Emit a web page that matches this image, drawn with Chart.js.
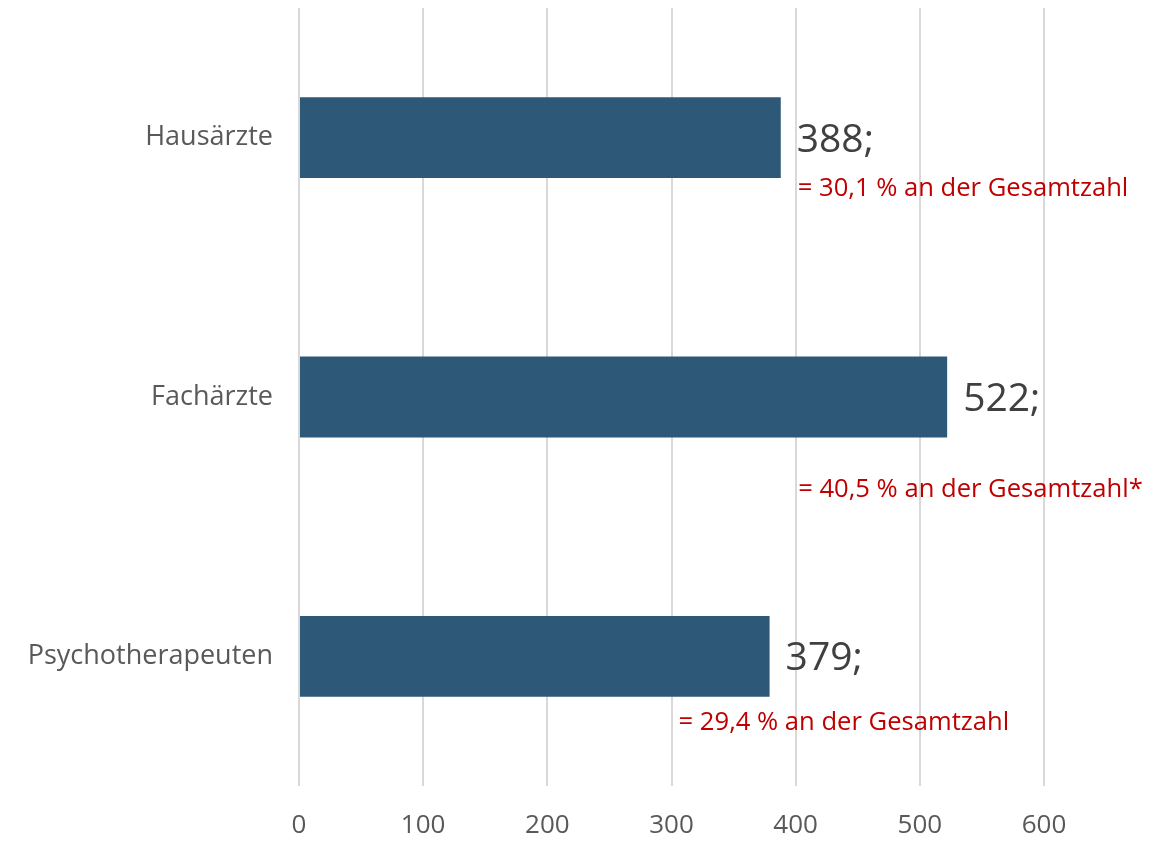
<!DOCTYPE html>
<html>
<head>
<meta charset="utf-8">
<script src="https://cdn.jsdelivr.net/npm/chart.js@4"></script>
<style>
  html, body { margin: 0; padding: 0; background: #fff; }
  #wrap { width: 1170px; height: 841px; }
</style>
</head>
<body>
<div id="wrap"><canvas id="chart" width="1170" height="841"></canvas></div>
<script>
const categories = ['Hausärzte', 'Fachärzte', 'Psychotherapeuten'];
const counts = [388, 522, 379];
const shareLabels = ['= 30,1 % an der Gesamtzahl', '= 40,5 % an der Gesamtzahl*', '= 29,4 % an der Gesamtzahl'];
const xTicks = [0, 100, 200, 300, 400, 500, 600];

// where each annotation sits relative to its bar end (pixels)
const valueOffsets = [[16, 3], [16, 3], [16, 3]];
const shareOffsets = [[17, 51], [-149, 93], [-91, 66]];

const annotations = {
    id: 'annotations',
    afterDatasetsDraw(chart) {
        const ctx = chart.ctx;
        const meta = chart.getDatasetMeta(0);
        ctx.save();
        ctx.textBaseline = 'middle';
        ctx.textAlign = 'left';
        meta.data.forEach((bar, i) => {
            ctx.font = '39px "Open Sans"';
            ctx.fillStyle = '#404040';
            ctx.fillText(counts[i] + ';', bar.x + valueOffsets[i][0], bar.y + valueOffsets[i][1]);
            ctx.font = '25.6px "Open Sans"';
            ctx.fillStyle = '#c00000';
            ctx.fillText(shareLabels[i], bar.x + shareOffsets[i][0], bar.y + shareOffsets[i][1]);
        });
        ctx.restore();
    }
};

new Chart(document.getElementById('chart').getContext('2d'), {
    type: 'bar',
    data: {
        labels: categories,
        datasets: [{
            data: counts,
            backgroundColor: '#2e5878',
            borderWidth: 0,
            categoryPercentage: 1,
            barPercentage: 0.312
        }]
    },
    options: {
        indexAxis: 'y',
        responsive: false,
        animation: false,
        layout: { padding: { top: 8, right: 126, bottom: 0, left: 0 } },
        plugins: {
            legend: { display: false },
            tooltip: { enabled: false }
        },
        scales: {
            x: {
                min: 0,
                max: 600,
                afterBuildTicks: (scale) => { scale.ticks = xTicks.map(v => ({ value: v })); },
                afterFit: (scale) => {
                    scale.height = 55;
                    scale.paddingLeft = 0;
                    scale.paddingRight = 0;
                },
                grid: { color: '#d9d9d9', lineWidth: 2, drawTicks: false },
                border: { display: false },
                ticks: {
                    padding: 24,
                    color: '#595959',
                    font: { family: 'Open Sans', size: 26 }
                }
            },
            y: {
                afterFit: (scale) => {
                    scale.width = 299;
                    scale.paddingTop = 0;
                    scale.paddingBottom = 0;
                },
                grid: { display: false },
                border: { display: false },
                ticks: {
                    padding: 18,
                    color: '#595959',
                    font: { family: 'Open Sans', size: 27 }
                }
            }
        }
    },
    plugins: [annotations]
});
</script>
</body>
</html>
